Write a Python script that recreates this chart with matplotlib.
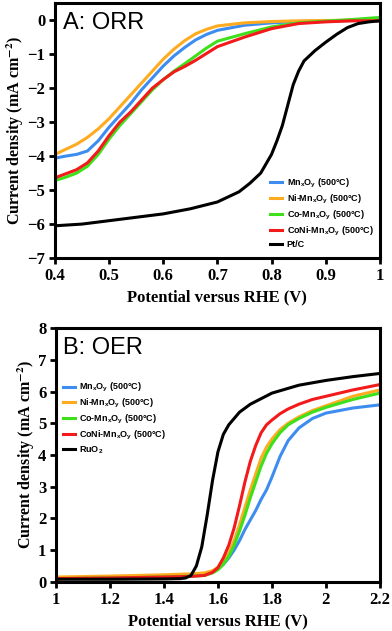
import matplotlib
matplotlib.use("Agg")
import matplotlib.pyplot as plt

# ORR data (potential V vs RHE, current density mA cm-2)
orr_v = [0.40, 0.42, 0.44, 0.46, 0.48, 0.50, 0.52, 0.54, 0.56, 0.58, 0.60, 0.62,
         0.64, 0.66, 0.68, 0.70, 0.75, 0.80, 0.85, 0.90, 0.95, 1.00]
orr_mn = [-4.06, -4.00, -3.95, -3.85, -3.55, -3.15, -2.80, -2.45, -2.05, -1.70, -1.35, -1.05,
          -0.80, -0.58, -0.42, -0.30, -0.15, -0.08, -0.04, -0.02, -0.01, 0.00]
orr_ni = [-3.95, -3.80, -3.65, -3.45, -3.20, -2.90, -2.55, -2.20, -1.85, -1.50, -1.15, -0.85,
          -0.60, -0.40, -0.27, -0.17, -0.08, -0.04, -0.02, -0.01, 0.00, 0.02]
orr_co = [-4.72, -4.62, -4.50, -4.30, -3.95, -3.50, -3.10, -2.75, -2.40, -2.05, -1.75, -1.50,
          -1.28, -1.05, -0.82, -0.62, -0.40, -0.20, -0.08, -0.03, 0.02, 0.08]
orr_coni = [-4.64, -4.52, -4.40, -4.20, -3.85, -3.40, -3.00, -2.70, -2.35, -2.00, -1.75, -1.52,
            -1.36, -1.18, -0.98, -0.78, -0.50, -0.25, -0.10, -0.05, -0.02, -0.02]
pt_v = [0.40, 0.45, 0.50, 0.55, 0.60, 0.65, 0.70, 0.74, 0.76, 0.78, 0.80, 0.81, 0.82, 0.83,
        0.84, 0.85, 0.86, 0.88, 0.90, 0.92, 0.94, 0.96, 0.98, 1.00]
pt_c = [-6.05, -6.00, -5.90, -5.80, -5.70, -5.55, -5.35, -5.05, -4.80, -4.50, -3.95, -3.55,
        -3.10, -2.50, -1.90, -1.50, -1.20, -0.90, -0.65, -0.42, -0.22, -0.10, -0.05, -0.02]

# OER data
oer_v = [1.00, 1.20, 1.40, 1.50, 1.55, 1.58, 1.60, 1.62, 1.64, 1.66, 1.68, 1.70, 1.72, 1.74,
         1.76, 1.78, 1.80, 1.83, 1.86, 1.90, 1.95, 2.00, 2.10, 2.20]
oer_mn = [0.10, 0.12, 0.15, 0.18, 0.22, 0.30, 0.40, 0.55, 0.75, 1.00, 1.30, 1.65, 1.95, 2.25,
          2.60, 2.90, 3.30, 3.95, 4.45, 4.85, 5.15, 5.32, 5.48, 5.58]
oer_ni = [0.15, 0.18, 0.22, 0.25, 0.28, 0.35, 0.45, 0.65, 0.90, 1.30, 1.80, 2.35, 2.90, 3.40,
          3.90, 4.25, 4.50, 4.80, 5.00, 5.20, 5.40, 5.55, 5.85, 6.05]
oer_co = [0.10, 0.12, 0.15, 0.18, 0.20, 0.28, 0.38, 0.55, 0.80, 1.15, 1.60, 2.10, 2.65, 3.15,
          3.65, 4.05, 4.35, 4.70, 4.95, 5.15, 5.35, 5.50, 5.75, 5.95]
oer_coni = [0.10, 0.12, 0.15, 0.17, 0.20, 0.30, 0.45, 0.75, 1.15, 1.70, 2.40, 3.15, 3.80, 4.30,
            4.70, 4.95, 5.10, 5.30, 5.45, 5.60, 5.75, 5.85, 6.05, 6.22]
ru_v = [1.00, 1.20, 1.40, 1.46, 1.48, 1.50, 1.52, 1.54, 1.56, 1.58, 1.60, 1.62, 1.64, 1.68,
        1.72, 1.80, 1.90, 2.00, 2.10, 2.20]
ru_c = [0.08, 0.08, 0.09, 0.10, 0.12, 0.20, 0.50, 1.10, 2.10, 3.20, 4.10, 4.65, 4.95, 5.35,
        5.60, 5.95, 6.20, 6.35, 6.47, 6.57]

labels = [r"Mn$_\mathregular{x}$O$_\mathregular{y}$ (500°C)",
          r"Ni-Mn$_\mathregular{x}$O$_\mathregular{y}$ (500°C)",
          r"Co-Mn$_\mathregular{x}$O$_\mathregular{y}$ (500°C)",
          r"CoNi-Mn$_\mathregular{x}$O$_\mathregular{y}$ (500°C)"]
colors = ["#3d8cf0", "#ffab1f", "#3ee01c", "#f21a1a"]

plt.rcParams["mathtext.fontset"] = "custom"
plt.rcParams["mathtext.rm"] = "Liberation Sans:bold"
plt.rcParams["mathtext.bf"] = "Liberation Sans:bold"
serif = "Liberation Serif"
sans = "Liberation Sans"
ylab = r"Current density (mA cm$^{\mathbf{-2}}$)"

fig = plt.figure(figsize=(3.92, 6.31), dpi=100)
ax1 = fig.add_axes([0.140, 0.591, 0.829, 0.404])
ax2 = fig.add_axes([0.143, 0.078, 0.826, 0.402])


def style(ax):
    for s in ax.spines.values():
        s.set_linewidth(2.2)
    ax.tick_params(direction="out", length=4, width=2, pad=3)
    for t in ax.get_xticklabels() + ax.get_yticklabels():
        t.set_fontfamily(serif)
        t.set_fontweight("bold")
        t.set_fontsize(12)


lw = 2.2
legprop = {"family": sans, "weight": "bold", "size": 6.5}

for c, col, lab in zip([orr_mn, orr_ni, orr_co, orr_coni], colors, labels):
    ax1.plot(orr_v, c, color=col, lw=lw, label=lab)
ax1.plot(pt_v, pt_c, color="black", lw=lw, label="Pt/C")
ax1.set_xlim(0.4, 1.0)
ax1.set_ylim(-7, 0.5)
ax1.set_xticks([0.4, 0.5, 0.6, 0.7, 0.8, 0.9, 1.0])
ax1.set_xticklabels(["0.4", "0.5", "0.6", "0.7", "0.8", "0.9", "1"])
ax1.set_yticks(range(-7, 1))
style(ax1)
ax1.set_xlabel("Potential versus RHE (V)", family=serif, weight="bold", fontsize=12, labelpad=4)
ax1.set_ylabel(ylab, family=serif, weight="bold", fontsize=11.5, labelpad=1, math_fontfamily="stix")
ax1.text(0.025, 0.965, "A: ORR", transform=ax1.transAxes, family=sans, fontsize=17,
         va="top", ha="left")
ax1.legend(loc="lower right", bbox_to_anchor=(1.0, 0.01), frameon=False, prop=legprop,
           handlelength=1.3, handletextpad=0.5, labelspacing=0.3, borderaxespad=0.3)

for c, col, lab in zip([oer_mn, oer_ni, oer_co, oer_coni], colors, labels):
    ax2.plot(oer_v, c, color=col, lw=lw, label=lab)
ax2.plot(ru_v, ru_c, color="black", lw=lw, label=r"RuO$_\mathregular{2}$")
ax2.set_xlim(1.0, 2.2)
ax2.set_ylim(0, 8)
ax2.set_xticks([1.0, 1.2, 1.4, 1.6, 1.8, 2.0, 2.2])
ax2.set_xticklabels(["1", "1.2", "1.4", "1.6", "1.8", "2", "2.2"])
ax2.set_yticks(range(0, 9))
style(ax2)
ax2.set_xlabel("Potential versus RHE (V)", family=serif, weight="bold", fontsize=12, labelpad=4)
ax2.set_ylabel(ylab, family=serif, weight="bold", fontsize=11.5, labelpad=1, math_fontfamily="stix")
ax2.text(0.02, 0.965, "B: OER", transform=ax2.transAxes, family=sans, fontsize=17,
         va="top", ha="left")
ax2.legend(loc="upper left", bbox_to_anchor=(0.01, 0.805), frameon=False, prop=legprop,
           handlelength=1.3, handletextpad=0.5, labelspacing=0.3, borderaxespad=0.0)

fig.savefig("out.png", dpi=100)
